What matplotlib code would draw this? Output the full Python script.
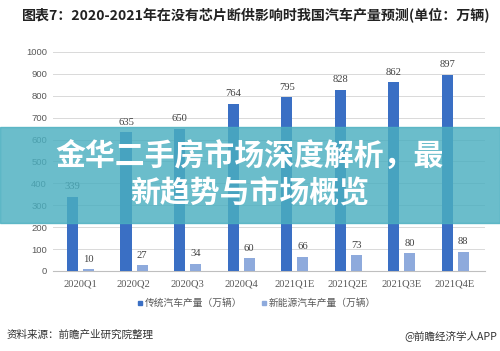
import numpy as np
import matplotlib.pyplot as plt
from matplotlib.patches import Rectangle

quarters = ['2020Q1', '2020Q2', '2020Q3', '2020Q4', '2021Q1E', '2021Q2E', '2021Q3E', '2021Q4E']
traditional = [339, 635, 650, 764, 795, 828, 862, 897]
new_energy = [10, 27, 34, 60, 66, 73, 80, 88]
series_names = ['传统汽车产量（万辆）', '新能源汽车产量（万辆）']
yticks = [0, 100, 200, 300, 400, 500, 600, 700, 800, 900, 1000]

title = '图表7：2020-2021年在没有芯片断供影响时我国汽车产量预测(单位：万辆)'
source = '资料来源：前瞻产业研究院整理'
credit = '@前瞻经济学人APP'
banner = ['金华二手房市场深度解析，最', '新趋势与市场概览']

cjk = ['Noto Sans CJK SC', 'DejaVu Sans']
plt.rcParams['font.family'] = cjk

c_trad = '#3a6fc4'
c_new = '#8eaadc'
grey = '#595959'

fig = plt.figure(figsize=(5.0, 3.51), dpi=100)
ax = fig.add_axes([0.105, 0.228, 0.865, 0.624])

x = np.arange(len(quarters))
w = 0.21
ax.bar(x - 0.145, traditional, width=w, color=c_trad, zorder=3)
ax.bar(x + 0.155, new_energy, width=w, color=c_new, zorder=3)

for xi, v in zip(x, traditional):
    ax.text(xi - 0.145, v + 24, str(v), ha='center', va='bottom', fontsize=7.6,
            family='Liberation Serif', color='#404040')
for xi, v in zip(x, new_energy):
    ax.text(xi + 0.155, v + 24, str(v), ha='center', va='bottom', fontsize=7.6,
            family='Liberation Serif', color='#404040')

ax.set_xlim(-0.52, 7.56)
ax.set_ylim(0, 1000)
ax.set_yticks(yticks)
ax.set_yticklabels([str(t) for t in yticks], family='Liberation Sans', fontsize=6.8, color=grey)
ax.set_xticks(x)
ax.set_xticklabels(quarters, family='Liberation Serif', fontsize=7.6, color=grey)
ax.tick_params(length=0, pad=4)
ax.tick_params(axis='x', pad=6)
ax.grid(axis='y', color='#d9d9d9', linewidth=0.7, zorder=0)
for s in ['top', 'right', 'left']:
    ax.spines[s].set_visible(False)
ax.spines['bottom'].set_color('#bfbfbf')
ax.spines['bottom'].set_linewidth(0.8)

# legend
fig.patches.append(Rectangle((138 / 500, 1 - 305 / 351), 4 / 500, 4 / 351,
                             transform=fig.transFigure, color=c_trad))
fig.text(145 / 500, 1 - 303 / 351, series_names[0], fontsize=7, color=grey, va='center')
fig.patches.append(Rectangle((262 / 500, 1 - 305 / 351), 4 / 500, 4 / 351,
                             transform=fig.transFigure, color=c_new))
fig.text(269 / 500, 1 - 303 / 351, series_names[1], fontsize=7, color=grey, va='center')

fig.text(22 / 500, 1 - 16 / 351, title, fontsize=10.1, fontweight='bold', color='#222222', va='center')
fig.text(7 / 500, 1 - 335 / 351, source, fontsize=7.6, color='#333333', va='center')
fig.text(497 / 500, 1 - 336 / 351, credit, fontsize=7.6, color='#333333', va='center', ha='right')

# banner overlay
fig.patches.append(Rectangle((0, 1 - 223 / 351), 1, 96 / 351, transform=fig.transFigure,
                             color='#4aafc0', alpha=0.82, zorder=5))
fig.text(0.5, 1 - 157 / 351, banner[0], fontsize=21.5, fontweight='bold', color='white',
         ha='center', va='center', zorder=6)
fig.text(0.5, 1 - 194 / 351, banner[1], fontsize=21.5, fontweight='bold', color='white',
         ha='center', va='center', zorder=6)

fig.savefig('out.png', dpi=100)
